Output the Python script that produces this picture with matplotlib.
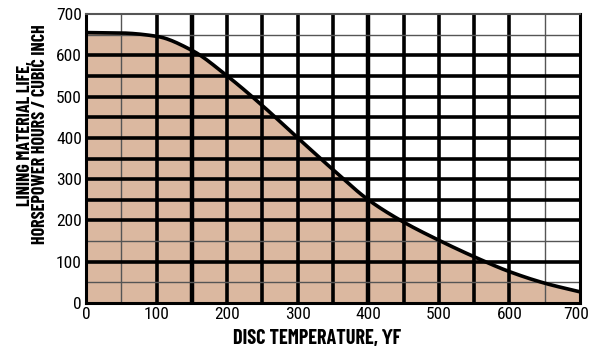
import numpy as np
import matplotlib.pyplot as plt
from matplotlib.transforms import offset_copy

temps = [0, 50, 100, 150, 200, 250, 300, 350, 400, 450, 500, 550, 600, 650, 700]
life = [655, 654, 646, 612, 550, 478, 400, 323, 250, 196, 152, 112, 76, 48, 27]

x_ticks = [0, 100, 200, 300, 400, 500, 600, 700]
y_ticks = [0, 100, 200, 300, 400, 500, 600, 700]

plt.rcParams['font.family'] = ['Roboto Condensed', 'DejaVu Sans']
LABEL_FONT = ['Barlow Condensed', 'Roboto Condensed', 'DejaVu Sans']

W, H = 589, 352


def smooth(xs, ys, n=300):
    # monotone cubic (Fritsch-Carlson) through read points
    xs = np.asarray(xs, float)
    ys = np.asarray(ys, float)
    h = np.diff(xs)
    d = np.diff(ys) / h
    m = np.zeros_like(ys)
    m[0], m[-1] = d[0], d[-1]
    for i in range(1, len(xs) - 1):
        if d[i - 1] * d[i] > 0:
            m[i] = 2 / (1 / d[i - 1] + 1 / d[i])
    xx = np.linspace(xs[0], xs[-1], n)
    idx = np.clip(np.searchsorted(xs, xx) - 1, 0, len(h) - 1)
    t = (xx - xs[idx]) / h[idx]
    h00 = 2 * t**3 - 3 * t**2 + 1
    h10 = t**3 - 2 * t**2 + t
    h01 = -2 * t**3 + 3 * t**2
    h11 = t**3 - t**2
    yy = h00 * ys[idx] + h10 * h[idx] * m[idx] + h01 * ys[idx + 1] + h11 * h[idx] * m[idx + 1]
    return xx, yy


def main():
    fig = plt.figure(figsize=(W / 100, H / 100), dpi=100)
    ax = fig.add_axes([86 / W, 1 - 303 / H, 494 / W, 289 / H])

    xx, yy = smooth(temps, life)
    ax.fill_between(xx, 0, yy, color='#dbb8a0', zorder=1)

    # grid
    for v in range(50, 700, 50):
        if v in (50, 650):
            lw, c = 1.0, '#555555'
        elif v in (150, 400):
            lw, c = 3.2, 'black'
        else:
            lw, c = 2.6, 'black'
        ax.axvline(v, color=c, lw=lw, zorder=2)
    for v in range(50, 700, 50):
        if v in (50, 150, 650):
            lw, c = 1.0, '#555555'
        else:
            lw, c = 2.6, 'black'
        ax.axhline(v, color=c, lw=lw, zorder=2)

    ax.plot(xx, yy, color='black', lw=2.6, zorder=3, solid_capstyle='butt')

    ax.set_xlim(0, 700)
    ax.set_ylim(0, 700)
    ax.set_xticks(x_ticks)
    ax.set_yticks(y_ticks)
    ax.tick_params(length=0, labelsize=12.5, pad=3)
    fig.canvas.draw()
    last = ax.get_xticklabels()[-1]
    last.set_transform(offset_copy(last.get_transform(), fig=fig, x=-4, units='dots'))
    for s in ax.spines.values():
        s.set_linewidth(2.2)
        s.set_zorder(4)
    ax.spines['top'].set_color('#555555')
    ax.spines['top'].set_linewidth(1.5)

    fig.text(317 / W, 1 - 339 / H, 'DISC TEMPERATURE, \u03d2F', fontsize=14.5, fontweight='bold',
             ha='center', va='center', family=LABEL_FONT)
    fig.text(33 / W, 1 - 134 / H, 'LINING MATERIAL LIFE,\nHORSEPOWER HOURS / CUBIC INCH',
             fontsize=13, fontweight='bold', rotation=90, ha='center', va='center',
             multialignment='center', linespacing=0.85, family=LABEL_FONT)

    fig.savefig('out.png', dpi=100)


if __name__ == "__main__":
    main()
